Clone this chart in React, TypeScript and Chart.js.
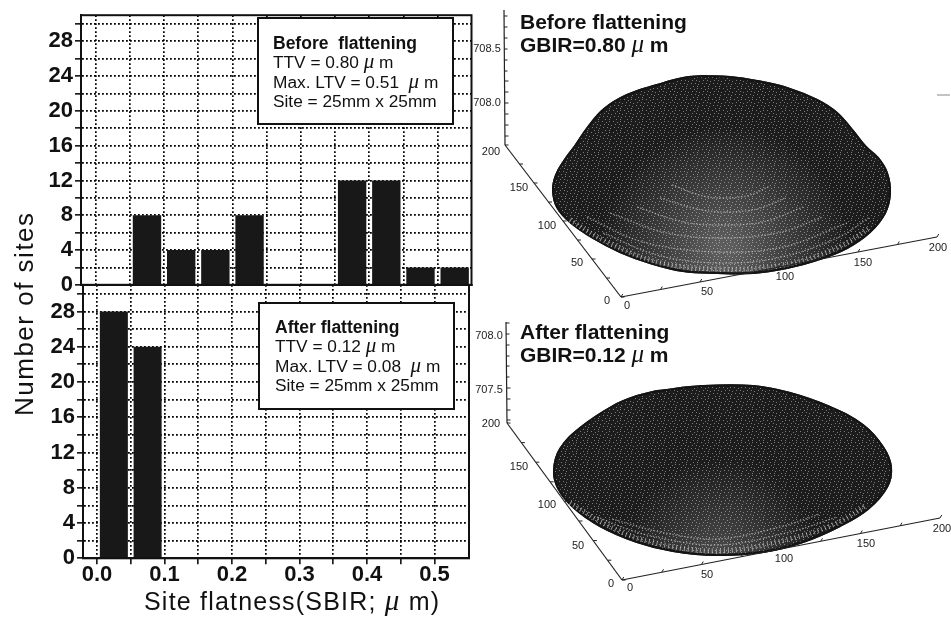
import React, { useEffect, useRef } from "react";
import { Chart, registerables } from "chart.js";

Chart.register(...registerables);

// ---------- histogram data ----------
const beforeBins = [0.075, 0.125, 0.175, 0.225, 0.375, 0.425, 0.475, 0.525];
const beforeCounts = [8, 4, 4, 8, 12, 12, 2, 2];
const afterBins = [0.025, 0.075];
const afterCounts = [28, 24];
const xTickValues = [0, 0.05, 0.1, 0.15, 0.2, 0.25, 0.3, 0.35, 0.4, 0.45, 0.5];
const xLabelled = ["0.0", "", "0.1", "", "0.2", "", "0.3", "", "0.4", "", "0.5"];
const yTickValues = [0, 2, 4, 6, 8, 10, 12, 14, 16, 18, 20, 22, 24, 26, 28, 30];
const yLabelled = [0, 4, 8, 12, 16, 20, 24, 28];

// ---------- 3D panel outlines (panel units) ----------
type P = { x: number; y: number };
const pts = (a: number[][]): P[] => a.map(([x, y]) => ({ x, y }));

const domeOutline = [[703,76],[730,77],[757,81],[787,88],[817,100],[837,113],[853,131],[866,147],[878,158],[887,173],[890,193],[885,213],[870,232],[847,248],[817,260],[787,268],[753,273],[717,273],[683,271],[650,263],[620,252],[593,238],[570,222],[557,207],[553,190],[556,175],[564,161],[575,146],[588,127],[604,109],[627,95],[657,85],[683,78],[703,76]];
const domeRim = [[570,220],[603,240],[657,262],[717,269],[783,265],[837,248],[870,228]];
const domeArcs = [
  [[603,233],[657,255],[717,263],[777,258],[837,238],[870,217]],
  [[587,217],[643,242],[717,252],[783,247],[847,223]],
  [[610,213],[663,232],[717,238],[777,233],[823,217]],
  [[637,207],[683,222],[720,225],[763,222],[803,207]],
  [[660,198],[697,209],[725,212],[757,209],[785,198]],
  [[672,185],[703,196],[727,198],[750,195],[770,186]],
];
const domeZAxis = [[504,10],[505,145]];
const domeYAxis = [[505,145],[621,297]];
const domeXAxis = [[621,297],[937,237]];
const domeZTicks = [[504,16],[504,27],[504,38],[504,49],[504,60],[504,71],[505,81],[505,92],[505,103],[505,114],[505,125],[505,136]];
const domeYTicks = [[505,145],[519.5,164],[534,183],[548.5,202],[563,221],[577.5,240],[592,259],[606.5,278],[621,297]];
const domeXTicks = [[621,297],[660.5,289.5],[700,282],[739.5,274.5],[779,267],[818.5,259.5],[858,252],[897.5,244.5],[937,237]];
const domeZLabels = ["708.5", "708.0"];
const domeZLabelAt = [[487,49],[487,103]];
const domeYLabels = ["200", "150", "100", "50", "0"];
const domeYLabelAt = [[491,152],[519,188],[547,226],[577,263],[607,301]];
const domeXLabels = ["0", "50", "100", "150", "200"];
const domeXLabelAt = [[627,306],[707,292],[785,277],[863,263],[938,248]];
const domeStray = [[937,95],[950,95]];

const discOutline = [[657,391],[703,386],[753,386],[790,393],[830,407],[863,425],[883,447],[891,467],[887,487],[868,509],[840,526],[803,542],[763,552],[717,555],[673,551],[637,542],[600,526],[573,507],[558,488],[554,470],[560,449],[580,428],[613,406],[637,396],[657,391]];
const discRim = [[570,503],[603,523],[643,540],[717,551],[790,539],[837,523],[867,505]];
const discArcs = [
  [[597,517],[643,534],[717,545],[790,532],[837,517]],
  [[612,519],[660,532],[717,539],[780,527],[820,514]],
];
const discZAxis = [[506,322],[507,423]];
const discYAxis = [[507,423],[622,580]];
const discXAxis = [[622,580],[940,518]];
const discZTicks = [[506,323],[506,334],[506,345],[506,356],[506,366],[506,377],[507,388],[507,399],[507,410],[507,420]];
const discYTicks = [[507,423],[521.4,442.6],[535.8,462.2],[550.2,481.8],[564.6,501.4],[579,521],[593.4,540.6],[607.8,560.2],[622.2,580]];
const discXTicks = [[622,580],[661.75,572.25],[701.5,564.5],[741.25,556.75],[781,549],[820.75,541.25],[860.5,533.5],[900.25,525.75],[940,518]];
const discZLabels = ["708.0", "707.5"];
const discZLabelAt = [[489,336],[489,390]];
const discYLabelAt = [[491,424],[519,467],[547,505],[578,546],[611,584]];
const discXLabelAt = [[630,588],[707,575],[784,559],[866,544],[942,529]];

// ---------- text ----------
const SANS = '"Liberation Sans", Arial, sans-serif';
const MU = 'italic ';
type Run = { t: string; f: string };
const r = (t: string, f: string): Run => ({ t, f });
const muRun = (size: number): Run => r("\u03BC", `${MU}${size}px "Liberation Serif", serif`);

function drawRuns(ctx: CanvasRenderingContext2D, x: number, y: number, runs: Run[], spacing = "0px") {
  ctx.save();
  ctx.fillStyle = "#111";
  ctx.textAlign = "left";
  ctx.textBaseline = "alphabetic";
  (ctx as any).letterSpacing = spacing;
  let cx = x;
  for (const run of runs) {
    ctx.font = run.f;
    ctx.fillText(run.t, cx, y);
    cx += ctx.measureText(run.t).width;
  }
  ctx.restore();
}

const infoLines = (title: string, ttv: string, ltv: string): Run[][] => {
  const f = `17.3px ${SANS}`;
  return [
    [r(title, `bold 17.5px ${SANS}`)],
    [r(`TTV = ${ttv} `, f), muRun(21), r(" m", f)],
    [r(`Max. LTV = ${ltv}  `, f), muRun(21), r(" m", f)],
    [r("Site = 25mm x 25mm", f)],
  ];
};
const beforeInfo = infoLines("Before  flattening", "0.80", "0.51");
const afterInfo = infoLines("After flattening", "0.12", "0.08");

function boxPlugin(box: number[], lines: Run[][], textX: number, baselines: number[]) {
  return {
    id: "infoBox",
    afterDraw(chart: any) {
      const { ctx, chartArea: a } = chart;
      ctx.save();
      ctx.strokeStyle = "#111";
      ctx.lineWidth = 2;
      ctx.strokeRect(a.left, a.top, a.right - a.left, a.bottom - a.top);
      ctx.fillStyle = "#fff";
      ctx.fillRect(box[0], box[1], box[2], box[3]);
      ctx.strokeRect(box[0], box[1], box[2], box[3]);
      ctx.restore();
      lines.forEach((l, i) => drawRuns(ctx, textX, baselines[i], l));
    },
  };
}

const titlesPlugin = {
  id: "outerTitles",
  afterDraw(chart: any) {
    const { ctx } = chart;
    const f = `25px ${SANS}`;
    drawRuns(ctx, 144, 610, [r("Site flatness(SBIR; ", f), muRun(29), r(" m)", f)], "1.2px");
    ctx.save();
    ctx.translate(33, 416);
    ctx.rotate(-Math.PI / 2);
    drawRuns(ctx, 0, 0, [r("Number of sites", `26px ${SANS}`)], "1.5px");
    ctx.restore();
  },
};

function histogram(
  canvas: HTMLCanvasElement,
  bins: number[],
  counts: number[],
  xMin: number,
  xMax: number,
  showX: boolean,
  padding: any,
  yWidth: number,
  xHeight: number,
  plugins: any[],
) {
  return new Chart(canvas, {
    type: "bar",
    data: {
      datasets: [
        {
          data: bins.map((x, i) => ({ x, y: counts[i] })),
          backgroundColor: "#181818",
          borderWidth: 0,
          barPercentage: 0.83,
          categoryPercentage: 1,
        },
      ],
    },
    plugins,
    options: {
      animation: false,
      responsive: false,
      layout: { padding },
      plugins: { legend: { display: false }, tooltip: { enabled: false } },
      scales: {
        x: {
          type: "linear",
          offset: false,
          min: xMin,
          max: xMax,
          afterBuildTicks: (s: any) => {
            s.ticks = xTickValues.map((value) => ({ value }));
          },
          afterFit: (s: any) => {
            s.height = xHeight;
          },
          grid: {
            offset: false,
            color: "#000",
            lineWidth: 1.7,
            drawTicks: showX,
            tickLength: 6,
            tickColor: "#111",
            tickWidth: 1.6,
          },
          border: { display: true, color: "#111", width: 2, dash: [1.8, 2.2] },
          ticks: {
            display: showX,
            autoSkip: false,
            maxRotation: 0,
            padding: -3,
            color: "#111",
            font: { family: SANS, size: 22, weight: "bold" },
            callback: (_v: any, i: number) => xLabelled[i] ?? "",
          },
        },
        y: {
          type: "linear",
          min: 0,
          max: 31,
          afterBuildTicks: (s: any) => {
            s.ticks = yTickValues.map((value) => ({ value }));
          },
          afterFit: (s: any) => {
            s.width = yWidth;
          },
          grid: {
            color: "#000",
            lineWidth: 1.7,
            tickLength: 6,
            tickColor: "#111",
            tickWidth: 1.6,
          },
          border: { display: true, color: "#111", width: 2, dash: [1.8, 2.2] },
          ticks: {
            autoSkip: false,
            padding: 2,
            color: "#111",
            font: { family: SANS, size: 22, weight: "bold" },
            callback: (v: any) => (yLabelled.includes(Number(v)) ? String(v) : ""),
          },
        },
      },
    },
  } as any);
}

// ---------- 3D panels ----------
const tileDots = [[0,0],[4,1],[7,0],[2,3],[6,3],[9,4],[1,6],[5,6],[8,7],[3,9],[7,9]];

function speckle(ctx: CanvasRenderingContext2D, alpha: number) {
  const t = document.createElement("canvas");
  t.width = 11;
  t.height = 11;
  const c = t.getContext("2d")!;
  c.fillStyle = `rgba(255,255,255,${alpha})`;
  tileDots.forEach(([x, y]) => c.fillRect(x, y, 1, 1));
  return ctx.createPattern(t, "repeat");
}

type PanelSpec = {
  top: number;
  height: number;
  outline: number[][];
  rim: number[][];
  arcs: number[][][];
  zAxis: number[][];
  yAxis: number[][];
  xAxis: number[][];
  zTicks: number[][];
  yTicks: number[][];
  xTicks: number[][];
  zLabels: string[];
  zLabelAt: number[][];
  yLabelAt: number[][];
  xLabelAt: number[][];
  glow: number[];
  glowTone: string;
  titleRuns: Run[][];
  titleBaselines: number[];
  stray?: number[][];
};

const bold = `bold 21px ${SANS}`;

function panel(canvas: HTMLCanvasElement, s: PanelSpec) {
  const left = 470;
  const ctx = canvas.getContext("2d")!;
  const g = ctx.createRadialGradient(
    s.glow[0] - left, s.glow[1] - s.top, 10,
    s.glow[0] - left, s.glow[1] - s.top, s.glow[2],
  );
  g.addColorStop(0, s.glowTone);
  g.addColorStop(1, "#1c1c1c");

  const line = (d: number[][], color: string, width: number, extra: any = {}) => ({
    data: pts(d),
    borderColor: color,
    borderWidth: width,
    pointRadius: 0,
    fill: false,
    ...extra,
  });
  const ticks = (d: number[][], rot: number) => ({
    data: pts(d),
    showLine: false,
    pointStyle: "dash",
    pointRadius: 3.5,
    pointRotation: rot,
    pointBorderColor: "#222",
    pointBorderWidth: 1,
    fill: false,
  });

  // Chart.js paints the last dataset first, so the order here runs top to bottom.
  const datasets: any[] = [
    line(s.zAxis, "#222", 1.2),
    line(s.yAxis, "#222", 1.2),
    line(s.xAxis, "#222", 1.2),
    ticks(s.zTicks, 0),
    ticks(s.yTicks, 0),
    ticks(s.xTicks, -60),
    line(s.rim, "rgba(225,225,225,0.6)", 5, { borderDash: [1, 3], tension: 0.35 }),
    ...s.arcs.map((a) =>
      line(a, "rgba(225,225,225,0.5)", 1.4, { borderDash: [1.5, 1.6], tension: 0.35 }),
    ),
    {
      data: pts(s.outline),
      borderColor: "#141414",
      borderWidth: 2,
      backgroundColor: speckle(ctx, 0.42),
      pointRadius: 0,
      tension: 0.4,
      fill: "shape",
    },
    {
      data: pts(s.outline),
      borderColor: "#141414",
      borderWidth: 2,
      backgroundColor: g,
      pointRadius: 0,
      tension: 0.4,
      fill: "shape",
    },
  ];
  if (s.stray) datasets.push(line(s.stray, "#888", 1));

  const labelsPlugin = {
    id: "panelLabels",
    afterDraw(chart: any) {
      const c = chart.ctx;
      const X = chart.scales.x;
      const Y = chart.scales.y;
      c.save();
      c.fillStyle = "#222";
      c.font = `11px ${SANS}`;
      c.textAlign = "center";
      c.textBaseline = "middle";
      const put = (texts: string[], at: number[][]) =>
        texts.forEach((t, i) =>
          c.fillText(t, X.getPixelForValue(at[i][0]), Y.getPixelForValue(at[i][1])),
        );
      put(s.zLabels, s.zLabelAt);
      put(domeYLabels, s.yLabelAt);
      put(domeXLabels, s.xLabelAt);
      c.restore();
      s.titleRuns.forEach((runs, i) =>
        drawRuns(c, X.getPixelForValue(520), Y.getPixelForValue(s.titleBaselines[i]), runs),
      );
    },
  };

  return new Chart(canvas, {
    type: "line",
    data: { datasets },
    plugins: [labelsPlugin],
    options: {
      animation: false,
      responsive: false,
      layout: { autoPadding: false, padding: 0 },
      plugins: { legend: { display: false }, tooltip: { enabled: false } },
      scales: {
        x: { type: "linear", display: false, min: left, max: 951 },
        y: { type: "linear", display: false, min: s.top, max: s.top + s.height, reverse: true },
      },
    },
  } as any);
}

const domeSpec: PanelSpec = {
  top: 0,
  height: 310,
  outline: domeOutline,
  rim: domeRim,
  arcs: domeArcs,
  zAxis: domeZAxis,
  yAxis: domeYAxis,
  xAxis: domeXAxis,
  zTicks: domeZTicks,
  yTicks: domeYTicks,
  xTicks: domeXTicks,
  zLabels: domeZLabels,
  zLabelAt: domeZLabelAt,
  yLabelAt: domeYLabelAt,
  xLabelAt: domeXLabelAt,
  glow: [725, 250, 125],
  glowTone: "#5c5c5c",
  titleRuns: [
    [r("Before flattening", bold)],
    [r("GBIR=0.80 ", bold), muRun(25), r(" m", bold)],
  ],
  titleBaselines: [29, 52],
  stray: domeStray,
};

const discSpec: PanelSpec = {
  top: 310,
  height: 311,
  outline: discOutline,
  rim: discRim,
  arcs: discArcs,
  zAxis: discZAxis,
  yAxis: discYAxis,
  xAxis: discXAxis,
  zTicks: discZTicks,
  yTicks: discYTicks,
  xTicks: discXTicks,
  zLabels: discZLabels,
  zLabelAt: discZLabelAt,
  yLabelAt: discYLabelAt,
  xLabelAt: discXLabelAt,
  glow: [720, 560, 100],
  glowTone: "#484848",
  titleRuns: [
    [r("After flattening", bold)],
    [r("GBIR=0.12 ", bold), muRun(25), r(" m", bold)],
  ],
  titleBaselines: [339, 362],
};

export default function App() {
  const upper = useRef<HTMLCanvasElement>(null);
  const lower = useRef<HTMLCanvasElement>(null);
  const dome = useRef<HTMLCanvasElement>(null);
  const disc = useRef<HTMLCanvasElement>(null);

  useEffect(() => {
    document.body.style.margin = "0";
    document.body.style.background = "#fff";
    const charts = [
      histogram(
        upper.current!, beforeBins, beforeCounts, -0.0215, 0.5496, false,
        { top: 11, right: 3.5, bottom: 15, left: 0 }, 81, 0,
        [boxPlugin([258, 18, 195, 106], beforeInfo, 273, [49, 68, 88, 107])],
      ),
      histogram(
        lower.current!, afterBins, afterCounts, -0.0207, 0.551, true,
        { top: 285, right: 6, bottom: 0, left: 0 }, 83, 62.7,
        [boxPlugin([259, 303, 195, 106], afterInfo, 275, [333, 352, 372, 391]), titlesPlugin],
      ),
      panel(dome.current!, domeSpec),
      panel(disc.current!, discSpec),
    ];
    return () => charts.forEach((c) => c.destroy());
  }, []);

  const abs = (left: number, top: number): React.CSSProperties => ({
    position: "absolute",
    left,
    top,
    display: "block",
  });

  return (
    <div style={{ position: "relative", width: 951, height: 621, overflow: "hidden", background: "#fff" }}>
      <canvas ref={upper} width={475} height={300} style={abs(0, 0)} />
      <canvas ref={lower} width={475} height={621} style={abs(0, 0)} />
      <canvas ref={dome} width={481} height={310} style={abs(470, 0)} />
      <canvas ref={disc} width={481} height={311} style={abs(470, 310)} />
    </div>
  );
}
